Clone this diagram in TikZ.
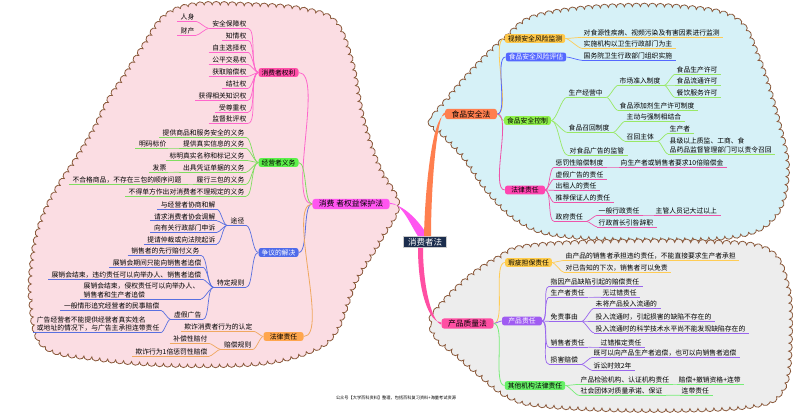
\documentclass[tikz,border=0pt]{standalone}
\usepackage{fontspec}
\setmainfont{Noto Sans CJK SC}
\usetikzlibrary{decorations.pathmorphing,calc}
\definecolor{lcloud}{HTML}{FBDDE3}
\definecolor{rtcloud}{HTML}{D6F1F7}
\definecolor{rbcloud}{HTML}{EDEDED}
\definecolor{cbord}{HTML}{8B5A3C}
\definecolor{cMag}{HTML}{FF55F0}
\definecolor{cRight}{HTML}{FF4FA8}
\definecolor{lnMag}{HTML}{FF66CC}
\definecolor{cJy}{HTML}{5CF04A}
\definecolor{lnJy}{HTML}{80DD60}
\definecolor{cZy}{HTML}{4F6BEA}
\definecolor{lnZy}{HTML}{5A70E0}
\definecolor{cFlL}{HTML}{FFA64D}
\definecolor{lnFlL}{HTML}{F0A860}
\definecolor{cFs}{HTML}{FF7F4F}
\definecolor{cJc}{HTML}{FFC94A}
\definecolor{lnJc}{HTML}{FFCC55}
\definecolor{cPg}{HTML}{5468FF}
\definecolor{cKz}{HTML}{8FF04A}
\definecolor{lnKz}{HTML}{99E866}
\definecolor{cFlR}{HTML}{FF45B0}
\definecolor{lnFlR}{HTML}{EE55AA}
\definecolor{cPz}{HTML}{FF4FA3}
\definecolor{cXc}{HTML}{FFCC4A}
\definecolor{cCz}{HTML}{A05CF2}
\definecolor{lnCz}{HTML}{9966EE}
\definecolor{cQt}{HTML}{66F066}
\definecolor{lnQt}{HTML}{77EE77}
\definecolor{cLaw}{HTML}{1B2D4D}
\colorlet{bc}{black}
\newcommand\LL[5]{%
  \node[leaf,anchor=east] (#1) at (#3,#4) {#5};
  \coordinate (#1-w) at ([xshift=-3pt]#1.south west);
  \coordinate (#1-e) at ([xshift=1pt]#1.south east);
  \draw[ul] (#1-w) -- (#1-e);
  \draw[cn] (#2) to[out=180,in=0,looseness=0.5] (#1-e);
}
\newcommand\RL[5]{%
  \node[leaf,anchor=west] (#1) at (#3,#4) {#5};
  \coordinate (#1-w) at ([xshift=-1pt]#1.south west);
  \coordinate (#1-e) at ([xshift=3pt]#1.south east);
  \draw[ul] (#1-w) -- (#1-e);
  \draw[cn] (#2) to[out=0,in=180,looseness=0.5] (#1-w);
}
\begin{document}
\begin{tikzpicture}[x=1pt,y=-1pt,
  leaf/.style={font=\fontsize{6.8}{8.2}\selectfont, inner xsep=0.5pt, inner ysep=1pt, align=left},
  ul/.style={draw=bc, line width=0.7pt},
  cn/.style={draw=bc, line width=0.7pt},
  box1/.style={font=\fontsize{7.8}{9}\selectfont, rounded corners=3pt, inner xsep=6.5pt, inner ysep=1.6pt},
  box2/.style={font=\fontsize{6.8}{8}\selectfont, rounded corners=2.5pt, inner xsep=3pt, inner ysep=1.3pt, minimum width=40pt},
  cloud/.style={draw=cbord, line width=0.8pt, decorate, decoration={bumps, segment length=16pt, amplitude=3.5pt}},
  bcn/.style={line width=0.8pt}]
\useasboundingbox (0,0) rectangle (793,415);
\fill[white] (0,0) rectangle (793,415);
% clouds
\path[cloud, fill=lcloud] plot[smooth cycle, tension=0.6] coordinates {(45,345) (32,300) (35,250) (45,215) (60,186) (77,160) (95,130) (110,100) (126,76) (145,46) (165,18) (195,6) (250,6) (300,10) (333,22) (350,60) (362,120) (378,168) (396,204) (380,238) (355,280) (335,330) (310,350) (260,362) (180,364) (100,358)};
\path[cloud, fill=rtcloud] plot[smooth cycle, tension=0.6] coordinates {(433,122) (450,98) (478,66) (505,40) (535,18) (600,8) (680,8) (735,20) (758,60) (778,125) (786,170) (776,212) (740,234) (650,238) (560,234) (520,220) (490,192) (465,157) (445,135)};
\path[cloud, fill=rbcloud] plot[smooth cycle, tension=0.6] coordinates {(440,340) (432,322) (445,302) (470,278) (497,260) (525,248) (600,243) (700,243) (765,250) (786,285) (789,340) (782,388) (750,405) (650,409) (550,405) (510,396) (478,372) (455,352)};
% main nodes
\node[font=\fontsize{8.5}{10}\selectfont, text=white, fill=cLaw, draw=gray!40, line width=0.8pt, inner xsep=4.5pt, inner ysep=1.5pt] (law) at (425,242) {消费者法};
\node[box1, fill=cMag] (kpl) at (351,204) {消费 者权益保护法};
\node[box1, fill=cFs] (fsl) at (471,114) {食品安全法};
\node[box1, fill=cPz] (pzl) at (467.5,323.5) {产品质量法};
% tapered connectors
\fill[cMag] (kpl.east) .. controls +(14,0) and +(-8,-14) .. ([xshift=3pt]law.north) -- ([xshift=-7pt]law.north) .. controls +(-8,-12) and +(12,0) .. ([yshift=1.2pt]kpl.east) -- cycle;
\fill[cFs] ([xshift=-1pt]law.north) .. controls +(1,-50) and +(-12,1) .. ([yshift=-1pt]fsl.west) -- ([yshift=1.5pt]fsl.west) .. controls +(-8,2) and +(0,-50) .. ([xshift=6pt]law.north) -- cycle;
\fill[cPz] ([xshift=-7pt]law.south) .. controls +(0,45) and +(-12,0) .. ([yshift=1pt]pzl.west) -- ([yshift=-1pt]pzl.west) .. controls +(-9,-2) and +(0,40) .. ([xshift=-2pt]law.south) -- cycle;
% second level boxes
\node[box2, fill=cRight] (qlb) at (278.5,72.5) {消费者权利};
\node[box2, fill=cJy] (jyb) at (278.5,162.5) {经营者义务};
\node[box2, fill=cZy, text=white] (zyb) at (278.5,252.5) {争议的解决};
\node[box2, fill=cFlL] (flL) at (283.5,336.5) {法律责任};
\node[box2, fill=cJc] (jc) at (535,38.5) {视频安全风险监测};
\node[box2, fill=cPg, text=white] (pg) at (536,57) {食品安全风险评估};
\node[box2, fill=cKz] (kz) at (527.5,120.5) {食品安全控制};
\node[box2, fill=cFlR] (flR) at (525,190) {法律责任};
\node[box2, fill=cXc] (xc) at (528.5,262.5) {瑕疵担保责任};
\node[box2, fill=cCz, text=white] (cz) at (522,321) {产品责任};
\node[box2, fill=cQt] (qt) at (535,385.5) {其他机构法律责任};
% first to second level connectors
\draw[bcn, lnMag] (kpl.west) to[out=180,in=0,looseness=0.5] (qlb.east);
\draw[bcn, lnJy] (kpl.west) to[out=180,in=0,looseness=0.5] (jyb.east);
\draw[bcn, lnZy] (kpl.west) to[out=180,in=0,looseness=0.5] (zyb.east);
\draw[bcn, lnFlL] (kpl.west) to[out=180,in=0,looseness=0.5] (flL.east);
\draw[bcn, lnJc] (fsl.east) to[out=0,in=180,looseness=0.5] (jc.west);
\draw[bcn, cPg] (fsl.east) to[out=0,in=180,looseness=0.5] (pg.west);
\draw[bcn, lnKz] (fsl.east) to[out=0,in=180,looseness=0.5] (kz.west);
\draw[bcn, lnFlR] (fsl.east) to[out=0,in=180,looseness=0.5] (flR.west);
\draw[bcn, lnJc] (pzl.east) to[out=0,in=180,looseness=0.5] (xc.west);
\draw[bcn, lnCz] (pzl.east) to[out=0,in=180,looseness=0.5] (cz.west);
\draw[bcn, lnQt] (pzl.east) to[out=0,in=180,looseness=0.5] (qt.west);
% consumer rights
\colorlet{bc}{lnMag}
\LL{r1}{qlb.west}{247}{24}{安全保障权}
\LL{r1a}{r1-w}{195}{17}{人身}
\LL{r1b}{r1-w}{195}{31}{财产}
\LL{r2}{qlb.west}{247}{36}{知情权}
\LL{r3}{qlb.west}{247}{48}{自主选择权}
\LL{r4}{qlb.west}{247}{60}{公平交易权}
\LL{r5}{qlb.west}{247}{72}{获取赔偿权}
\LL{r6}{qlb.west}{247}{84}{结社权}
\LL{r7}{qlb.west}{247}{96}{获得相关知识权}
\LL{r8}{qlb.west}{247}{108}{受尊重权}
\LL{r9}{qlb.west}{247}{119}{监督批评权}
% operator obligations
\colorlet{bc}{lnJy}
\LL{g1}{jyb.west}{245}{133}{提供商品和服务安全的义务}
\LL{g2}{jyb.west}{245}{144}{提供真实信息的义务}
\LL{g2a}{g2-w}{167}{144}{明码标价}
\LL{g3}{jyb.west}{245}{156}{标明真实名称和标记义务}
\LL{g4}{jyb.west}{245}{168}{出具凭证单据的义务}
\LL{g4a}{g4-w}{167}{168}{发票}
\LL{g5}{jyb.west}{245}{180}{履行三包的义务}
\LL{g5a}{g5-w}{182}{180}{不合格商品，不存在三包的顺序问题}
\LL{g6}{jyb.west}{245}{192}{不得单方作出对消费者不理规定的义务}
% disputes
\colorlet{bc}{lnZy}
\LL{b1}{zyb.west}{245}{221}{途径}
\LL{b1a}{b1-w}{216}{205}{与经营者协商和解}
\LL{b1b}{b1-w}{216}{216.5}{请求消费者协会调解}
\LL{b1c}{b1-w}{216}{228}{向有关行政部门申诉}
\LL{b1d}{b1-w}{216}{239.5}{提请仲裁或向法院起诉}
\LL{b2}{zyb.west}{245}{283}{特定规则}
\LL{b2a}{b2-w}{200}{251}{销售者的先行赔付义务}
\LL{b2b}{b2-w}{202}{263}{展销会期间只能向销售者追偿}
\LL{b2c}{b2-w}{202}{275}{展销会结束，违约责任可以向举办人、销售者追偿}
\LL{b2d}{b2-w}{200}{290.5}{展销会结束，侵权责任可以向举办人、\\销售者和生产者追偿}
\LL{b2e}{b2-w}{202}{315}{虚假广告}
\LL{b2e1}{b2e-w}{160}{306}{一般情形追究经营者的民事赔偿}
\LL{b2e2}{b2e-w}{160}{324}{广告经营者不能提供经营者真实姓名\\或地址的情况下，与广告主承担连带责任}
% legal liability (left)
\colorlet{bc}{lnFlL}
\LL{o1}{flL.west}{253}{327}{欺诈消费者行为的认定}
\LL{o2}{flL.west}{252}{345}{赔偿规则}
\LL{o2a}{o2-w}{208}{339}{补偿性赔付}
\LL{o2b}{o2-w}{208}{352}{欺诈行为1倍惩罚性赔偿}
% food safety monitoring
\colorlet{bc}{lnJc}
\RL{y1}{jc.east}{583}{33}{对食源性疾病、视频污染及有害因素进行监测}
\RL{y2}{jc.east}{583}{44}{实施机构以卫生行政部门为主}
\colorlet{bc}{cPg}
\RL{u1}{pg.east}{583}{56}{国务院卫生行政部门组织实施}
% food safety control
\colorlet{bc}{lnKz}
\RL{k1}{kz.east}{568}{93}{生产经营中}
\RL{k1a}{k1-e}{619}{81}{市场准入制度}
\RL{k1a1}{k1a-e}{676}{70}{食品生产许可}
\RL{k1a2}{k1a-e}{676}{81}{食品流通许可}
\RL{k1a3}{k1a-e}{676}{93}{餐饮服务许可}
\RL{k1b}{k1-e}{619}{106}{食品添加剂生产许可制度}
\RL{k2}{kz.east}{568}{128}{食品召回制度}
\RL{k2a}{k2-e}{626}{117}{主动与强制相结合}
\RL{k2b}{k2-e}{626}{137}{召回主体}
\RL{k2b1}{k2b-e}{669}{129}{生产者}
\RL{k2b2}{k2b-e}{669}{145.5}{县级以上质监、工商、食\\品药品监督管理部门可以责令召回}
\RL{k3}{kz.east}{569}{151}{对食品广告的监管}
% legal liability (food)
\colorlet{bc}{lnFlR}
\RL{p1}{flR.east}{555}{163}{惩罚性赔偿制度}
\RL{p1a}{p1-e}{620}{163}{向生产者或销售者要求10倍赔偿金}
\RL{p2}{flR.east}{555}{174.5}{虚假广告的责任}
\RL{p3}{flR.east}{555}{186}{出租人的责任}
\RL{p4}{flR.east}{555}{198}{推荐保证人的责任}
\RL{p5}{flR.east}{555}{217}{政府责任}
\RL{p5a}{p5-e}{598}{211}{一般行政责任}
\RL{p5a1}{p5a-e}{655}{211}{主管人员记大过以上}
\RL{p5b}{p5-e}{598}{222.5}{行政首长引咎辞职}
% defect warranty
\colorlet{bc}{lnJc}
\RL{x1}{xc.east}{565}{256}{由产品的销售者承担违约责任，不能直接要求生产者承担}
\RL{x2}{xc.east}{565}{268}{对已告知的下次，销售者可以免责}
% product liability
\colorlet{bc}{lnCz}
\RL{c1}{cz.east}{550}{282}{指因产品缺陷引起的赔偿责任}
\RL{c2}{cz.east}{550}{293}{生产者责任}
\RL{c2a}{c2-e}{602}{293}{无过错责任}
\RL{c3}{cz.east}{550}{317}{免责事由}
\RL{c3a}{c3-e}{595}{304}{未将产品投入流通的}
\RL{c3b}{c3-e}{595}{317}{投入流通时，引起损害的缺陷不存在的}
\RL{c3c}{c3-e}{595}{328.5}{投入流通时的科学技术水平尚不能发现缺陷存在的}
\RL{c4}{cz.east}{550}{343}{销售者责任}
\RL{c4a}{c4-e}{600}{343}{过错推定责任}
\RL{c5}{cz.east}{550}{360}{损害赔偿}
\RL{c5a}{c5-e}{593}{353}{既可以向产品生产者追偿，也可以向销售者追偿}
\RL{c5b}{c5-e}{593}{366}{诉讼时效2年}
% other institutions
\colorlet{bc}{lnQt}
\RL{q1}{qt.east}{580}{380}{产品检验机构、认证机构责任}
\RL{q1a}{q1-e}{678}{380}{赔偿+撤销资格+连带}
\RL{q2}{qt.east}{580}{391}{社会团体对质量承诺、保证}
\RL{q2a}{q2-e}{681}{391}{连带责任}
% footer
\node[font=\fontsize{4.2}{5}\selectfont, inner sep=0pt] (ft) at (396,398) {公众号【大学百科资料】整理，包括百科复习资料+海量考试资源};
\end{tikzpicture}
\end{document}
